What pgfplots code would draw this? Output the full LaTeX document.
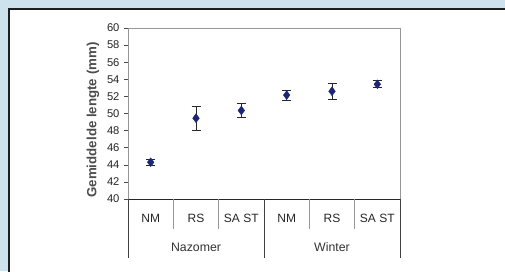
\documentclass[border=0pt]{standalone}
\usepackage{pgfplots}
\pgfplotsset{compat=1.18}
\usepackage{fontspec}
\setmainfont{Liberation Sans}
\definecolor{bgblue}{RGB}{206,226,238}
\definecolor{navy}{RGB}{28,38,118}
\definecolor{framec}{RGB}{30,30,30}
\definecolor{sepgray}{RGB}{150,150,150}
\begin{document}
\begin{tikzpicture}[x=1pt,y=1pt]
\clip (0,0) rectangle (505,271);
\fill[bgblue] (0,0) rectangle (505,271);
\filldraw[fill=white,draw=framec,line width=2.4pt] (9.2,-10) rectangle (520,261.8);
\begin{axis}[
  at={(128pt,72pt)}, anchor=south west,
  scale only axis, width=272pt, height=171pt,
  xmin=-0.5, xmax=5.5, ymin=40, ymax=60,
  ytick={40,42,...,60},
  xtick=\empty,
  axis line style={draw=sepgray, line width=0.8pt},
  tick style={draw=black!70, line width=0.6pt},
  tick align=outside, major tick length=4pt,
  ytick pos=left,
  yticklabel style={font=\fontsize{11.2}{12}\selectfont, text=black!85, xshift=-1pt},
  /pgf/number format/assume math mode=true,
  ylabel={\textbf{Gemiddelde lengte (mm)}},
  ylabel style={font=\fontsize{13.3}{15}\selectfont, text=black!70, yshift=1pt, xshift=-6.5pt},
  clip=false,
]
\addplot[only marks, mark=diamond*, mark size=4.4pt,
  mark options={fill=navy, draw=navy},
  error bars/.cd, y dir=both, y explicit,
  error mark options={rotate=90, mark size=4.5pt, line width=1pt, draw=black!85},
  error bar style={line width=1pt, draw=black!85}]
  coordinates {
  (0,44.3) +- (0,0.35)
  (1,49.45) +- (0,1.4)
  (2,50.35) +- (0,0.8)
  (3,52.15) +- (0,0.58)
  (4,52.6) +- (0,0.95)
  (5,53.42) +- (0,0.4)
  };
\end{axis}
% bottom axis line
\draw[black!85, line width=0.9pt] (128,72) -- (400,72);
\foreach \xx in {173.3,218.7,309.3,354.7} {
  \draw[sepgray, line width=0.8pt] (\xx,72) -- (\xx,42);
}
\foreach \xx in {128,264,400} {
  \draw[black!75, line width=0.9pt] (\xx,72) -- (\xx,13);
}
\foreach \xx/\lab in {150.7/NM,196/RS,241.3/SA ST,286.7/NM,332/RS,377.3/SA ST} {
  \node[font=\fontsize{12}{13}\selectfont, text=black!85] at (\xx,53) {\lab};
}
\node[font=\fontsize{12.3}{13}\selectfont, text=black!80] at (196,24) {Nazomer};
\node[font=\fontsize{12.3}{13}\selectfont, text=black!80] at (332,24) {Winter};
\end{tikzpicture}
\end{document}
